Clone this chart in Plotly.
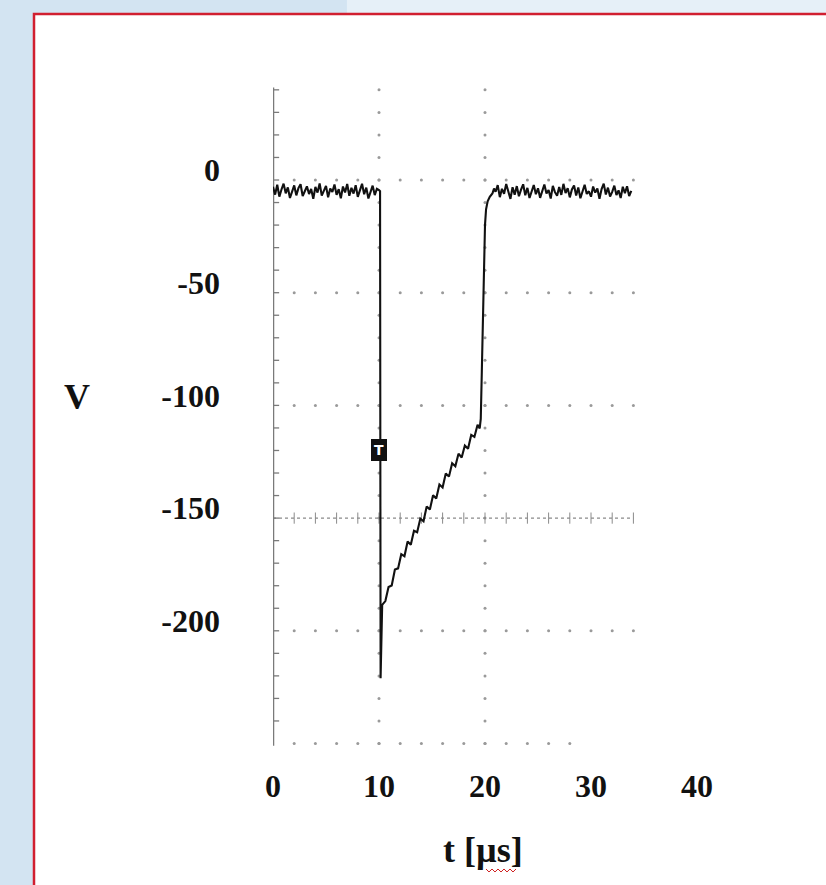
import numpy as np
import plotly.graph_objects as go

# ---------------- data ----------------
# baseline before the trigger, t = 0 .. 10 us, step 0.2 us
t_base1 = np.round(np.arange(0.0, 10.001, 0.2), 2)
v_base1 = [-3.0, -6.5, -2.1, -7.4, -4.2, -1.6, -5.9, -3.3, -8.0, -4.7,
           -2.4, -6.8, -3.6, -1.9, -7.1, -5.0, -2.8, -6.2, -4.0, -8.3,
           -3.1, -5.6, -1.5, -6.9, -4.4, -2.6, -7.7, -3.8, -5.3, -2.0,
           -6.6, -4.1, -8.1, -2.9, -5.5, -1.8, -7.0, -3.5, -6.0, -2.3,
           -7.5, -4.6, -1.7, -6.3, -3.4, -8.2, -4.8, -2.5, -6.7, -3.9,
           -4.5]

# fast drop at the trigger
t_drop = [10.1, 10.15, 10.25]
v_drop = [-5.0, -221.0, -191.0]

# noisy ramp back up
t_ramp = list(np.round(np.arange(10.3, 19.31, 0.3), 2)) + [19.5]
v_ramp = [-188.5, -186.8, -180.6, -179.9, -172.8, -172.3, -166.0, -166.9,
          -160.4, -161.8, -155.6, -156.3, -150.2, -151.4, -144.8, -146.2,
          -139.9, -141.3, -135.1, -136.4, -130.2, -131.6, -125.7, -127.0,
          -121.4, -123.1, -117.8, -119.2, -113.1, -114.0, -108.6, -110.2]

# steep recovery
t_rise = [19.6, 19.7, 19.8, 19.9, 20.0, 20.1, 20.25, 20.45, 20.7, 20.85]
v_rise = [-106.0, -85.0, -58.0, -35.0, -20.0, -13.0, -9.5, -7.5, -6.0, -3.8]

# baseline after recovery, t = 21.0 .. 33.8 us, step 0.2 us
t_base2 = np.round(np.arange(21.0, 33.801, 0.2), 2)
v_base2 = [-5.2, -2.3, -7.6, -3.9, -6.1, -1.8, -5.7, -8.4, -3.2, -6.5,
           -2.7, -7.2, -4.3, -1.9, -6.8, -3.5, -8.0, -4.9, -2.2, -6.3,
           -3.7, -7.9, -5.1, -2.0, -6.0, -4.4, -8.2, -2.6, -5.4, -7.0,
           -3.1, -6.6, -1.7, -5.8, -3.6, -7.7, -4.2, -2.4, -6.9, -3.3,
           -8.1, -4.7, -2.1, -6.2, -5.0, -7.4, -2.9, -5.6, -3.8, -8.3,
           -4.0, -1.6, -6.4, -3.4, -7.3, -5.3, -2.5, -6.7, -4.6, -8.0,
           -3.0, -5.9, -2.8, -7.1, -4.8]

assert len(t_base1) == len(v_base1)
assert len(t_ramp) == len(v_ramp)
assert len(t_base2) == len(v_base2)

x_tick_vals = [0, 10, 20, 30, 40]
x_tick_text = ["0", "10", "20", "30", "40"]
y_tick_vals = [0, -50, -100, -150, -200]
y_tick_text = ["0", "-50", "-100", "-150", "-200"]

trigger_t, trigger_v = 10.0, -120.0

# oscilloscope graticule
grid_h_levels = [0, -50, -100, -200]
grid_center = -150
grid_bottom = -250
grid_v_times = [10, 20]

t_all = np.concatenate([t_base1, t_drop, t_ramp, t_rise, t_base2])
v_all = np.concatenate([v_base1, v_drop, v_ramp, v_rise, v_base2])

# ---------------- layout geometry ----------------
W, H = 826, 885
X0, XS = 273, 10.6      # pixel of t=0, px per us
Y0, YS = 180, 2.254     # pixel of V=0, px per V

def px(x):
    return x / W
def py(y):
    return 1 - y / H

FONT = "Liberation Serif"

fig = go.Figure()

# graticule dots
gx, gy = [], []
for lv in grid_h_levels:
    for tt in np.arange(2, 34.1, 2):
        gx.append(tt); gy.append(lv)
for tt in np.arange(2, 28.1, 2):
    gx.append(tt); gy.append(grid_bottom)
for tv in grid_v_times:
    for vv in np.arange(-250, 41, 10):
        gx.append(tv); gy.append(vv)
fig.add_trace(go.Scatter(x=gx, y=gy, mode="markers",
                         marker=dict(size=3, color="#9a9a9a"),
                         hoverinfo="skip"))

# center line with ticks
fig.add_trace(go.Scatter(x=[0, 34], y=[grid_center, grid_center], mode="lines",
                         line=dict(color="#8a8a8a", width=1.2, dash="dot"),
                         hoverinfo="skip"))
ct = np.arange(2, 34.1, 2)
fig.add_trace(go.Scatter(x=ct, y=[grid_center] * len(ct), mode="markers",
                         marker=dict(symbol="line-ns", size=8,
                                     line=dict(width=1, color="#8a8a8a")),
                         hoverinfo="skip"))

# vertical axis line with minor ticks
fig.add_trace(go.Scatter(x=[0, 0], y=[-251, 41], mode="lines",
                         line=dict(color="#7a7a7a", width=2.5),
                         hoverinfo="skip"))
yt = np.arange(-240, 41, 10)
fig.add_trace(go.Scatter(x=[0.25] * len(yt), y=yt, mode="markers",
                         marker=dict(symbol="line-ew", size=5,
                                     line=dict(width=1.3, color="#7a7a7a")),
                         hoverinfo="skip"))

# the signal
fig.add_trace(go.Scatter(x=t_all, y=v_all, mode="lines",
                         line=dict(color="#111111", width=2.1),
                         hoverinfo="skip"))

x_range = [0, (W - X0) / XS]
y_range = [(Y0 - 746) / YS, (Y0 - 60) / YS]

fig.update_layout(
    width=W, height=H,
    margin=dict(l=0, r=0, t=0, b=0),
    paper_bgcolor="#d3e4f2",
    plot_bgcolor="rgba(0,0,0,0)",
    showlegend=False,
    template="none",
    hovermode=False,
    xaxis=dict(domain=[X0 / W, 1], range=x_range, showgrid=False,
               zeroline=False, showline=False, ticks="",
               tickvals=x_tick_vals, ticktext=x_tick_text,
               tickfont=dict(family=FONT, size=32, color="#111111", weight="bold"),
               ticklabelstandoff=18, automargin=False, fixedrange=True),
    yaxis=dict(domain=[(H - 746) / H, (H - 60) / H], range=y_range,
               showgrid=False, zeroline=False, showline=False, ticks="",
               tickvals=y_tick_vals, ticktext=y_tick_text,
               tickfont=dict(family=FONT, size=32, color="#111111", weight="bold"),
               ticklabelstandoff=52, ticklabelshift=-10,
               automargin=False, fixedrange=True),
    shapes=[
        dict(type="rect", xref="paper", yref="paper", x0=0.42, x1=1.02,
             y0=py(14), y1=1.02, fillcolor="#e6f0f8", line=dict(width=0),
             layer="below"),
        dict(type="rect", xref="paper", yref="paper", x0=px(34), x1=1.05,
             y0=-0.05, y1=py(14), fillcolor="white",
             line=dict(color="#d11f30", width=2.5), layer="below"),
    ],
    annotations=[
        dict(text="V", xref="paper", yref="paper", x=px(77), y=py(397),
             showarrow=False, xanchor="center", yanchor="middle",
             font=dict(family=FONT, size=36, color="#111111", weight="bold")),
        dict(text="t [µs]", xref="paper", yref="paper", x=px(483), y=py(850),
             showarrow=False, xanchor="center", yanchor="middle",
             font=dict(family=FONT, size=36, color="#111111", weight="bold")),
        dict(text="T", xref="x", yref="y", x=trigger_t, y=trigger_v,
             showarrow=False, bgcolor="#111111", bordercolor="#111111",
             borderpad=2,
             font=dict(family="DejaVu Sans", size=14, color="white", weight="bold")),
    ],
)

# spell-check squiggle under "µs"
zx = np.arange(486, 517, 3)
zy = [869 if i % 2 == 0 else 872 for i in range(len(zx))]
path = "M " + " L ".join(f"{px(a):.5f},{py(b):.5f}" for a, b in zip(zx, zy))
fig.add_shape(type="path", xref="paper", yref="paper", path=path,
              line=dict(color="#d02020", width=1))

fig.write_html(
    "out.html",
    config={"displayModeBar": False, "staticPlot": True},
    post_script="document.body.style.margin='0';"
                "document.body.style.padding='0';"
                "document.body.style.overflow='hidden';",
)
